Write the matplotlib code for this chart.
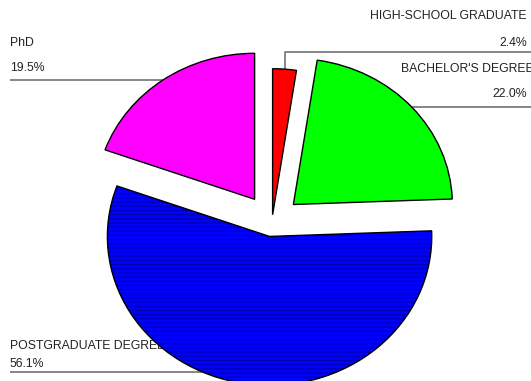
import matplotlib.pyplot as plt
import numpy as np

plt.rcParams['font.family'] = ['Liberation Sans', 'DejaVu Sans']
plt.rcParams['hatch.linewidth'] = 0.8

# education levels, clockwise from the top
labels = ['HIGH-SCHOOL GRADUATE', "BACHELOR'S DEGREE", 'POSTGRADUATE DEGREE', 'PhD']
shares = [2.4, 22.0, 56.1, 19.5]
colors = ['#ff0000', '#00ff00', '#0000ff', '#ff00ff']
explode = [0.05, 0.18, 0.1, 0.19]

W, H = 531, 381
fig = plt.figure(figsize=(W / 100, H / 100), dpi=100)
ax = fig.add_axes([0, 0, 1, 1])

# slightly flattened pie: 159 px wide radius, 146 px tall radius
rx, ry = 159.0, 146.0
cx, cy = 272.0, 222.0

base, _ = ax.pie(shares, colors=colors, explode=explode, startangle=90,
                 counterclock=False, radius=1,
                 wedgeprops=dict(linewidth=0))
base[2].set_hatch('----')
base[2].set_edgecolor('#0000b4')

wedges, _ = ax.pie(shares, colors=colors, explode=explode, startangle=90,
                   counterclock=False, radius=1,
                   wedgeprops=dict(facecolor='none', edgecolor='black',
                                   linewidth=1.0))

# the big slice is drawn a little larger
base[2].set_radius(1.02)
wedges[2].set_radius(1.02)

ax.set_aspect('auto')
ax.set_xlim(-cx / rx, (W - cx) / rx)
ax.set_ylim(-(H - cy) / ry, cy / ry)
ax.axis('off')


def to_data(px, py):
    # pixel position (from top-left) to data coordinates
    return (px - cx) / rx, (cy - py) / ry


def mid_point(w):
    a = np.deg2rad((w.theta1 + w.theta2) / 2)
    return w.center[0] + w.r * np.cos(a), w.center[1] + w.r * np.sin(a)


# labels and leaders sit underneath the slices
line_kw = dict(color='#666666', linewidth=1.1, solid_capstyle='butt', zorder=0.5)
txt_kw = dict(fontsize=8.8, color='#222222', va='baseline', zorder=0.5)
pct = ['%.1f%%' % s for s in shares]

# HIGH-SCHOOL GRADUATE: up from the slice, then to the right
mx, my = mid_point(wedges[0])
_, ly = to_data(0, 52)
xr, _ = to_data(W, 0)
ax.plot([mx, mx, xr], [my, ly, ly], **line_kw)
x0, y0 = to_data(527, 19)
ax.text(x0, y0, labels[0], ha='right', **txt_kw)
x0, y0 = to_data(527, 46)
ax.text(x0, y0, pct[0], ha='right', **txt_kw)

# BACHELOR'S DEGREE
mx, my = mid_point(wedges[1])
ax.plot([mx, xr], [my, my], **line_kw)
x0, y0 = to_data(401, 72)
ax.text(x0, y0, labels[1], ha='left', **txt_kw)
x0, y0 = to_data(527, 97)
ax.text(x0, y0, pct[1], ha='right', **txt_kw)

# PhD
mx, my = mid_point(wedges[3])
xl, _ = to_data(10, 0)
ax.plot([xl, mx], [my, my], **line_kw)
x0, y0 = to_data(10, 46)
ax.text(x0, y0, labels[3], ha='left', **txt_kw)
x0, y0 = to_data(10, 71)
ax.text(x0, y0, pct[3], ha='left', **txt_kw)

# POSTGRADUATE DEGREE
mx, my = mid_point(wedges[2])
_, ly = to_data(0, 372)
ax.plot([xl, mx], [ly, ly], **line_kw)
x0, y0 = to_data(10, 349)
ax.text(x0, y0, labels[2], ha='left', **txt_kw)
x0, y0 = to_data(10, 367)
ax.text(x0, y0, pct[2], ha='left', **txt_kw)

fig.savefig('out.png', dpi=100)
